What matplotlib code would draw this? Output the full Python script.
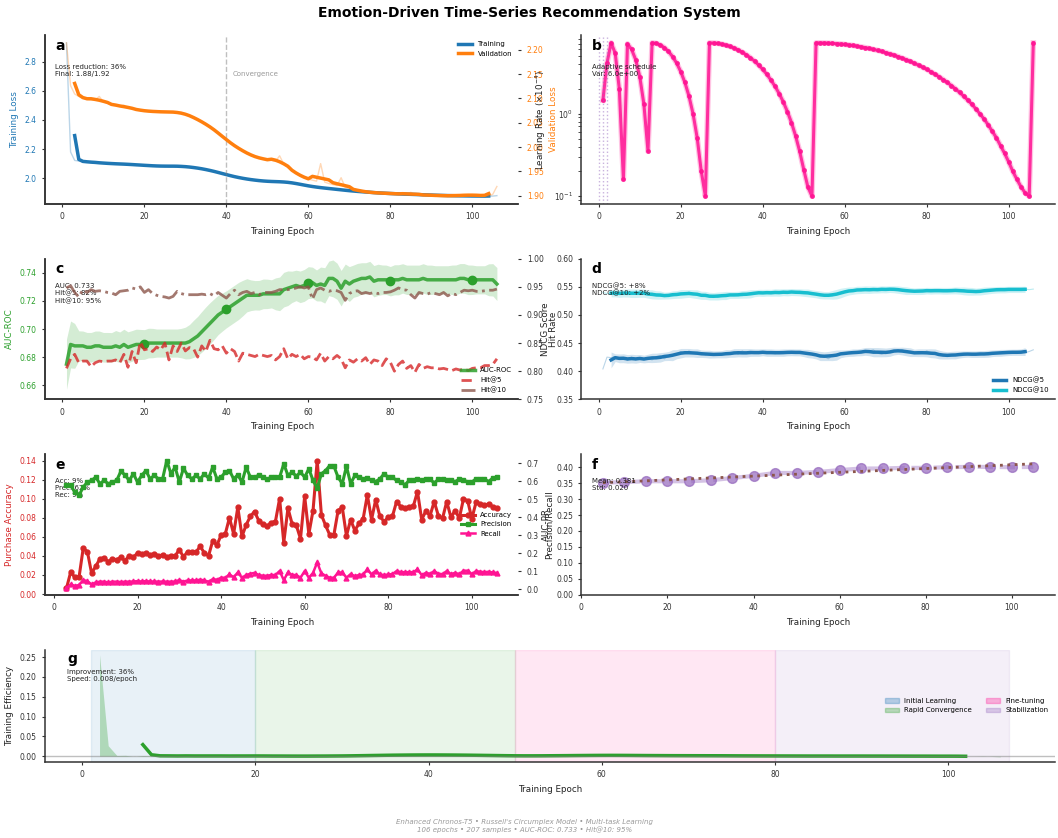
import numpy as np
import pandas as pd
import matplotlib
matplotlib.use('Agg')
from matplotlib import pyplot as plt
from matplotlib.gridspec import GridSpec
from matplotlib.patches import Patch

# Datos (epocas 1..106)
epochs = list(range(1, 107))

train_loss = [2.930, 2.180, 2.122, 2.118, 2.113, 2.114, 2.110, 2.108, 2.106, 2.104,
              2.101, 2.100, 2.099, 2.098, 2.097, 2.095, 2.094, 2.092, 2.090, 2.088,
              2.087, 2.085, 2.084, 2.082, 2.082, 2.083, 2.083, 2.083, 2.082, 2.080,
              2.077, 2.074, 2.070, 2.065, 2.060, 2.054, 2.047, 2.040, 2.032, 2.024,
              2.017, 2.010, 2.004, 1.998, 1.994, 1.990, 1.986, 1.983, 1.980, 1.978,
              1.977, 1.976, 1.976, 1.975, 1.973, 1.969, 1.964, 1.958, 1.952, 1.947,
              1.942, 1.938, 1.935, 1.932, 1.929, 1.926, 1.923, 1.920, 1.917, 1.914,
              1.911, 1.909, 1.907, 1.905, 1.903, 1.901, 1.899, 1.897, 1.896, 1.895,
              1.893, 1.892, 1.891, 1.890, 1.889, 1.888, 1.887, 1.886, 1.885, 1.884,
              1.883, 1.882, 1.881, 1.880, 1.880, 1.879, 1.879, 1.878, 1.878, 1.878,
              1.877, 1.877, 1.877, 1.876, 1.877, 1.880]

val_loss = [2.214, 2.126, 2.109, 2.104, 2.100, 2.098, 2.097, 2.097, 2.104, 2.093,
            2.090, 2.086, 2.085, 2.084, 2.086, 2.081, 2.079, 2.077, 2.075, 2.074,
            2.074, 2.073, 2.073, 2.072, 2.072, 2.072, 2.072, 2.072, 2.071, 2.068,
            2.065, 2.061, 2.057, 2.052, 2.047, 2.042, 2.036, 2.030, 2.022, 2.014,
            2.008, 2.003, 1.997, 1.992, 1.987, 1.983, 1.980, 1.977, 1.975, 1.974,
            1.973, 1.971, 1.982, 1.965, 1.958, 1.952, 1.946, 1.941, 1.937, 1.934,
            1.932, 1.930, 1.966, 1.928, 1.925, 1.923, 1.921, 1.937, 1.917, 1.915,
            1.913, 1.911, 1.909, 1.908, 1.907, 1.906, 1.906, 1.905, 1.905, 1.905,
            1.904, 1.904, 1.903, 1.903, 1.907, 1.902, 1.902, 1.902, 1.901, 1.901,
            1.901, 1.900, 1.900, 1.900, 1.900, 1.900, 1.901, 1.901, 1.901, 1.902,
            1.901, 1.901, 1.900, 1.899, 1.903, 1.919]

learning_rate = [1.45, 4.1, 7.2, 5.4, 2.0, 0.16, 7.0, 6.0, 4.5, 2.8, 1.3, 0.35,
                 7.2, 7.1, 6.79, 6.31, 5.67, 4.91, 4.08, 3.22, 2.39, 1.63, 0.99, 0.51, 0.20, 0.10,
                 7.2, 7.17, 7.09, 6.95, 6.76, 6.52, 6.24, 5.91, 5.55, 5.16, 4.75, 4.32, 3.87,
                 3.43, 2.99, 2.55, 2.14, 1.75, 1.39, 1.06, 0.78, 0.54, 0.35, 0.21, 0.13, 0.10,
                 7.2, 7.19, 7.17, 7.14, 7.10, 7.04, 6.97, 6.89, 6.79, 6.69, 6.57, 6.44, 6.31,
                 6.16, 6.00, 5.84, 5.67, 5.49, 5.30, 5.11, 4.91, 4.71, 4.50, 4.29, 4.08, 3.86,
                 3.65, 3.44, 3.22, 3.01, 2.80, 2.59, 2.39, 2.19, 2.00, 1.81, 1.63, 1.46, 1.30,
                 1.14, 0.99, 0.86, 0.73, 0.61, 0.51, 0.41, 0.33, 0.26, 0.20, 0.16, 0.13, 0.11,
                 0.10, 7.2]
lr_marcas = [0, 1, 2]

auc_roc = [0.675, 0.689, 0.688, 0.688, 0.688, 0.687, 0.687, 0.688, 0.688, 0.687,
           0.687, 0.687, 0.688, 0.687, 0.689, 0.687, 0.688, 0.689, 0.689, 0.689,
           0.690, 0.690, 0.690, 0.690, 0.690, 0.690, 0.690, 0.690, 0.690, 0.690,
           0.691, 0.693, 0.695, 0.698, 0.701, 0.704, 0.707, 0.710, 0.712, 0.714,
           0.716, 0.718, 0.720, 0.722, 0.724, 0.724, 0.724, 0.724, 0.725, 0.725,
           0.725, 0.725, 0.725, 0.728, 0.729, 0.730, 0.731, 0.730, 0.731, 0.733,
           0.733, 0.731, 0.732, 0.731, 0.736, 0.736, 0.734, 0.729, 0.734, 0.732,
           0.734, 0.735, 0.736, 0.736, 0.737, 0.734, 0.735, 0.735, 0.735, 0.734,
           0.735, 0.735, 0.736, 0.735, 0.735, 0.735, 0.735, 0.736, 0.735, 0.735,
           0.735, 0.735, 0.735, 0.735, 0.735, 0.735, 0.736, 0.736, 0.735, 0.735,
           0.735, 0.735, 0.735, 0.735, 0.735, 0.732]
auc_marcas = [20, 40, 60, 80, 100]

hit5 = [0.805, 0.822, 0.830, 0.815, 0.818, 0.818, 0.808, 0.815, 0.818, 0.817,
        0.818, 0.818, 0.820, 0.815, 0.830, 0.807, 0.835, 0.815, 0.852, 0.838,
        0.840, 0.835, 0.843, 0.838, 0.850, 0.820, 0.845, 0.835, 0.850, 0.836,
        0.842, 0.840, 0.825, 0.845, 0.835, 0.855, 0.840, 0.838, 0.845, 0.832,
        0.840, 0.835, 0.818, 0.832, 0.830, 0.828, 0.826, 0.830, 0.828, 0.826,
        0.828, 0.820, 0.826, 0.840, 0.822, 0.830, 0.826, 0.830, 0.822, 0.826,
        0.825, 0.820, 0.832, 0.818, 0.826, 0.822, 0.828, 0.822, 0.806, 0.820,
        0.816, 0.822, 0.818, 0.824, 0.812, 0.820, 0.818, 0.810, 0.822, 0.816,
        0.800, 0.812, 0.818, 0.805, 0.810, 0.798, 0.812, 0.805, 0.808, 0.806,
        0.806, 0.804, 0.805, 0.803, 0.801, 0.804, 0.802, 0.804, 0.801, 0.805,
        0.806, 0.806, 0.810, 0.810, 0.812, 0.822]

hit10 = [0.948, 0.952, 0.940, 0.932, 0.945, 0.940, 0.945, 0.942, 0.943, 0.942,
         0.940, 0.939, 0.936, 0.942, 0.943, 0.944, 0.948, 0.946, 0.950, 0.940,
         0.945, 0.938, 0.935, 0.933, 0.932, 0.930, 0.933, 0.942, 0.938, 0.936,
         0.936, 0.936, 0.936, 0.937, 0.936, 0.938, 0.934, 0.940, 0.935, 0.930,
         0.938, 0.944, 0.936, 0.940, 0.942, 0.938, 0.940, 0.936, 0.940, 0.940,
         0.940, 0.942, 0.945, 0.945, 0.945, 0.946, 0.948, 0.950, 0.948, 0.950,
         0.928, 0.945, 0.948, 0.944, 0.942, 0.944, 0.943, 0.940, 0.926, 0.938,
         0.942, 0.943, 0.938, 0.940, 0.938, 0.940, 0.938, 0.940, 0.940, 0.941,
         0.944, 0.948, 0.945, 0.944, 0.936, 0.930, 0.940, 0.938, 0.937, 0.940,
         0.938, 0.936, 0.940, 0.934, 0.938, 0.936, 0.940, 0.944, 0.943, 0.944,
         0.942, 0.942, 0.943, 0.944, 0.944, 0.946]

ndcg5 = [0.404, 0.425, 0.424, 0.426, 0.421, 0.424, 0.419, 0.425, 0.420, 0.424,
         0.421, 0.423, 0.420, 0.426, 0.428, 0.422, 0.427, 0.428, 0.430, 0.435,
         0.431, 0.436, 0.432, 0.430, 0.433, 0.429, 0.431, 0.430, 0.428, 0.431,
         0.430, 0.432, 0.434, 0.430, 0.436, 0.432, 0.431, 0.434, 0.433, 0.435,
         0.432, 0.434, 0.431, 0.433, 0.434, 0.432, 0.435, 0.433, 0.434, 0.433,
         0.432, 0.430, 0.428, 0.429, 0.426, 0.422, 0.428, 0.430, 0.432, 0.431,
         0.433, 0.432, 0.434, 0.435, 0.433, 0.436, 0.438, 0.432, 0.430, 0.433,
         0.435, 0.437, 0.436, 0.438, 0.435, 0.433, 0.432, 0.431, 0.432, 0.436,
         0.433, 0.431, 0.428, 0.430, 0.426, 0.428, 0.429, 0.430, 0.431, 0.430,
         0.431, 0.430, 0.429, 0.431, 0.432, 0.431, 0.432, 0.433, 0.433, 0.434,
         0.433, 0.434, 0.434, 0.433, 0.435, 0.438]

ndcg10 = [0.540, 0.538, 0.537, 0.541, 0.538, 0.540, 0.536, 0.539, 0.542, 0.536,
          0.540, 0.537, 0.539, 0.534, 0.533, 0.535, 0.536, 0.534, 0.536, 0.539,
          0.537, 0.541, 0.536, 0.538, 0.535, 0.534, 0.532, 0.535, 0.531, 0.534,
          0.536, 0.535, 0.537, 0.536, 0.534, 0.537, 0.539, 0.538, 0.540, 0.539,
          0.541, 0.538, 0.540, 0.539, 0.542, 0.540, 0.541, 0.539, 0.542, 0.540,
          0.539, 0.538, 0.537, 0.536, 0.535, 0.533, 0.534, 0.537, 0.540, 0.541,
          0.543, 0.544, 0.545, 0.543, 0.547, 0.544, 0.546, 0.544, 0.545, 0.546,
          0.547, 0.545, 0.546, 0.544, 0.543, 0.542, 0.541, 0.543, 0.542, 0.544,
          0.543, 0.544, 0.542, 0.543, 0.544, 0.542, 0.544, 0.543, 0.545, 0.542,
          0.540, 0.541, 0.542, 0.543, 0.544, 0.545, 0.544, 0.545, 0.546, 0.545,
          0.545, 0.546, 0.545, 0.546, 0.545, 0.546]

# panel e: epocas 3..106
epochs_e = list(range(3, 107))
accuracy = [0.006, 0.023, 0.0175, 0.0175, 0.048, 0.0445, 0.022, 0.029, 0.037, 0.038,
            0.034, 0.037, 0.036, 0.0385, 0.035, 0.040, 0.0385, 0.043, 0.042, 0.043,
            0.041, 0.042, 0.040, 0.041, 0.039, 0.040, 0.040, 0.0465, 0.039, 0.0445,
            0.044, 0.044, 0.050, 0.043, 0.040, 0.056, 0.051, 0.062, 0.063, 0.080,
            0.063, 0.091, 0.0605, 0.0725, 0.0815, 0.0865, 0.077, 0.073, 0.071, 0.075,
            0.076, 0.100, 0.054, 0.090, 0.0735, 0.072, 0.058, 0.1025, 0.063, 0.0875,
            0.140, 0.083, 0.072, 0.062, 0.0623, 0.0875, 0.091, 0.061, 0.078, 0.0665,
            0.074, 0.079, 0.104, 0.078, 0.099, 0.0815, 0.076, 0.0805, 0.0815, 0.097,
            0.0915, 0.090, 0.0915, 0.092, 0.1075, 0.078, 0.087, 0.082, 0.097, 0.082,
            0.0795, 0.097, 0.0805, 0.0875, 0.0795, 0.0997, 0.098, 0.079, 0.096, 0.0945,
            0.093, 0.0945, 0.0915, 0.090]
precision = [0.576, 0.576, 0.539, 0.521, 0.567, 0.595, 0.604, 0.622, 0.586, 0.604,
             0.586, 0.595, 0.604, 0.654, 0.635, 0.604, 0.641, 0.595, 0.632, 0.659,
             0.613, 0.632, 0.613, 0.613, 0.715, 0.641, 0.678, 0.595, 0.672, 0.632,
             0.613, 0.632, 0.613, 0.641, 0.617, 0.678, 0.613, 0.622, 0.650, 0.659,
             0.613, 0.635, 0.595, 0.678, 0.622, 0.622, 0.632, 0.622, 0.610, 0.622,
             0.622, 0.622, 0.696, 0.632, 0.650, 0.628, 0.650, 0.622, 0.669, 0.604,
             0.561, 0.641, 0.659, 0.687, 0.683, 0.622, 0.586, 0.683, 0.586, 0.632,
             0.622, 0.613, 0.617, 0.604, 0.598, 0.613, 0.641, 0.622, 0.622, 0.604,
             0.595, 0.580, 0.604, 0.604, 0.610, 0.604, 0.610, 0.610, 0.591, 0.610,
             0.610, 0.604, 0.604, 0.598, 0.610, 0.604, 0.598, 0.595, 0.613, 0.610,
             0.613, 0.598, 0.617, 0.622]
recall = [0.004, 0.026, 0.018, 0.022, 0.050, 0.044, 0.026, 0.037, 0.041, 0.041,
          0.037, 0.041, 0.041, 0.039, 0.041, 0.041, 0.042, 0.044, 0.042, 0.044,
          0.042, 0.042, 0.041, 0.042, 0.041, 0.041, 0.042, 0.050, 0.041, 0.048,
          0.048, 0.048, 0.052, 0.048, 0.041, 0.055, 0.052, 0.063, 0.063, 0.081,
          0.066, 0.092, 0.063, 0.078, 0.085, 0.090, 0.078, 0.074, 0.074, 0.078,
          0.078, 0.100, 0.050, 0.092, 0.078, 0.078, 0.063, 0.100, 0.063, 0.090,
          0.148, 0.087, 0.074, 0.063, 0.063, 0.092, 0.092, 0.063, 0.083, 0.072,
          0.078, 0.081, 0.109, 0.081, 0.102, 0.081, 0.078, 0.081, 0.083, 0.100,
          0.094, 0.094, 0.094, 0.094, 0.109, 0.078, 0.090, 0.085, 0.100, 0.085,
          0.083, 0.100, 0.083, 0.090, 0.083, 0.102, 0.102, 0.083, 0.100, 0.096,
          0.094, 0.096, 0.092, 0.090]

# panel f: AUC-PR cada 5 epocas
epochs_pr = [5, 10, 15, 20, 25, 30, 35, 40, 45, 50, 55, 60, 65, 70, 75, 80, 85, 90, 95, 100, 105]
auc_pr = [0.352, 0.353, 0.356, 0.356, 0.356, 0.359, 0.366, 0.373, 0.382, 0.382, 0.385,
          0.391, 0.396, 0.396, 0.398, 0.398, 0.400, 0.401, 0.401, 0.400, 0.401]

# panel g: fases del entrenamiento
fases = ['Initial Learning', 'Rapid Convergence', 'Fine-tuning', 'Stabilization']
fases_inicio = [1, 20, 50, 80]
fases_fin = [20, 50, 80, 107]
fases_colores = ['#1f77b4', '#2ca02c', '#ff1493', '#9467bd']

# Estilo general
plt.rcParams['font.family'] = ['DejaVu Sans']
plt.rcParams['axes.spines.top'] = False
plt.rcParams['axes.spines.right'] = False
plt.rcParams['axes.linewidth'] = 1.1
plt.rcParams['axes.edgecolor'] = '#333333'
plt.rcParams['xtick.labelsize'] = 5.5
plt.rcParams['ytick.labelsize'] = 5.5
plt.rcParams['axes.labelsize'] = 6.3
plt.rcParams['xtick.major.size'] = 2.5
plt.rcParams['ytick.major.size'] = 2.5
plt.rcParams['xtick.color'] = '#333333'
plt.rcParams['ytick.color'] = '#333333'
plt.rcParams['axes.labelcolor'] = '#222222'

fig = plt.figure(figsize=(10.58, 8.38), dpi=100)
gs = GridSpec(4, 2, figure=fig, height_ratios=[1.2, 1, 1, 0.8],
              left=0.0425, right=0.997, top=0.958, bottom=0.0907,
              hspace=0.39, wspace=0.133)


def letra(ax, txt):
    ax.text(0.022, 0.975, txt, transform=ax.transAxes, fontsize=10,
            fontweight='bold', va='top', ha='left')


def nota(ax, txt):
    ax.text(0.022, 0.83, txt, transform=ax.transAxes, fontsize=5,
            va='top', ha='left', color='#222222')


# a) perdidas
ax_a = fig.add_subplot(gs[0, 0])
ax_a2 = ax_a.twinx()
train_s = pd.Series(train_loss).rolling(5, center=True).mean()
val_s = pd.Series(val_loss).rolling(5, center=True).mean()
ax_a.plot(epochs, train_loss, color='#1f77b4', alpha=0.3, lw=1)
l1, = ax_a.plot(epochs, train_s, color='#1f77b4', lw=2.5, label='Training')
ax_a2.plot(epochs, val_loss, color='#ff7f0e', alpha=0.3, lw=1)
l2, = ax_a2.plot(epochs, val_s, color='#ff7f0e', lw=2.5, label='Validation')
ax_a.axvline(40, color='gray', ls='--', lw=1, alpha=0.5)
ax_a.text(41.5, 0.76, 'Convergence', transform=ax_a.get_xaxis_transform(),
          fontsize=5, color='gray', alpha=0.8)
ax_a.set_ylabel('Training Loss', color='#1f77b4')
ax_a.tick_params(axis='y', labelcolor='#1f77b4')
ax_a2.set_ylabel('Validation Loss', color='#ff7f0e')
ax_a2.tick_params(axis='y', labelcolor='#ff7f0e')
ax_a.set_xlabel('Training Epoch')
ax_a2.legend([l1, l2], ['Training', 'Validation'], loc='upper right',
             frameon=False, fontsize=5)
letra(ax_a, 'a')
nota(ax_a, 'Loss reduction: 36%\nFinal: 1.88/1.92')

# b) tasa de aprendizaje
ax_b = fig.add_subplot(gs[0, 1])
ax_b.plot(epochs, learning_rate, color='#ff1493', lw=4, alpha=0.25)
ax_b.plot(epochs, learning_rate, color='#ff1493', lw=2.2, marker='o', ms=2.5, alpha=0.85)
ax_b.set_yscale('log')
for m in lr_marcas:
    ax_b.axvline(m, color='#9467bd', ls=':', lw=1, alpha=0.5)
ax_b.set_xlim(ax_a.get_xlim())
ax_b.set_ylabel(r'Learning Rate ($\times10^{-4}$)')
ax_b.set_xlabel('Training Epoch')
letra(ax_b, 'b')
nota(ax_b, 'Adaptive schedule\nVar: 6.0e+00')

# c) AUC-ROC y Hit Rate
ax_c = fig.add_subplot(gs[1, 0])
ax_c2 = ax_c.twinx()
auc_s = pd.Series(auc_roc)
banda = auc_s.rolling(5, center=True, min_periods=1).std() + 0.01
ax_c.fill_between(epochs, auc_s - banda, auc_s + banda, color='#2ca02c', alpha=0.2, lw=0)
l3, = ax_c.plot(epochs, auc_roc, color='#2ca02c', lw=2.5, alpha=0.85, label='AUC-ROC')
idx = [epochs.index(e) for e in auc_marcas]
ax_c.plot([epochs[i] for i in idx], [auc_roc[i] for i in idx], 'o',
          color='#2ca02c', ms=6)
l4, = ax_c2.plot(epochs, hit5, color='#d62728', ls='--', lw=2, alpha=0.8, label='Hit@5')
l5, = ax_c2.plot(epochs, hit10, color='#8c564b', ls='-.', lw=2, alpha=0.8, label='Hit@10')
ax_c.set_ylim(0.65, 0.75)
ax_c2.set_ylim(0.75, 1.0)
ax_c.set_ylabel('AUC-ROC', color='#2ca02c')
ax_c.tick_params(axis='y', labelcolor='#2ca02c')
ax_c2.set_ylabel('Hit Rate')
ax_c.set_xlabel('Training Epoch')
ax_c2.legend([l3, l4, l5], ['AUC-ROC', 'Hit@5', 'Hit@10'], loc='lower right',
             frameon=False, fontsize=5)
letra(ax_c, 'c')
nota(ax_c, 'AUC: 0.733\nHit@5: 82%\nHit@10: 95%')

# d) NDCG
ax_d = fig.add_subplot(gs[1, 1])
for serie, col, nombre in [(ndcg5, '#1f77b4', 'NDCG@5'), (ndcg10, '#17becf', 'NDCG@10')]:
    s = pd.Series(serie)
    media = s.rolling(5, center=True).mean()
    desv = s.rolling(5, center=True).std() + 0.005
    ax_d.plot(epochs, serie, color=col, lw=0.8, alpha=0.3)
    ax_d.fill_between(epochs, media - desv, media + desv, color=col, alpha=0.2, lw=0)
    ax_d.plot(epochs, media, color=col, lw=2.5, label=nombre)
ax_d.set_ylim(0.35, 0.60)
ax_d.set_ylabel('NDCG Score')
ax_d.set_xlabel('Training Epoch')
ax_d.legend(loc='lower right', frameon=False, fontsize=5)
letra(ax_d, 'd')
nota(ax_d, 'NDCG@5: +8%\nNDCG@10: +2%')

# e) accuracy, precision, recall
ax_e = fig.add_subplot(gs[2, 0])
ax_e2 = ax_e.twinx()
l6, = ax_e.plot(epochs_e, accuracy, color='#d62728', lw=2.2, marker='o', ms=3.5, label='Accuracy')
l7, = ax_e2.plot(epochs_e, precision, color='#2ca02c', lw=2.2, marker='s', ms=3.5, label='Precision')
l8, = ax_e2.plot(epochs_e, recall, color='#ff1493', lw=1.8, marker='^', ms=3.5, label='Recall')
ax_e.set_ylabel('Purchase Accuracy', color='#d62728')
ax_e.tick_params(axis='y', labelcolor='#d62728')
ax_e2.set_ylabel('Precision/Recall')
ax_e.set_xlabel('Training Epoch')
ax_e2.legend([l6, l7, l8], ['Accuracy', 'Precision', 'Recall'], loc='center right',
             frameon=False, fontsize=5)
letra(ax_e, 'e')
nota(ax_e, 'Acc: 9%\nPrec: 62%\nRec: 9%')

# f) AUC-PR
ax_f = fig.add_subplot(gs[2, 1])
ax_f.plot(epochs_pr, auc_pr, color='#9467bd', ls='--', lw=3, alpha=0.4)
ax_f.plot(epochs_pr, auc_pr, 'o', color='#9467bd', ms=7, alpha=0.7)
coef = np.polyfit(epochs_pr, auc_pr, 1)
ax_f.plot(epochs_pr, np.polyval(coef, epochs_pr), ':', color='#8c564b', lw=2)
ax_f.set_ylim(0, max(auc_pr) * 1.1)
ax_f.set_xlim(0, 110)
ax_f.set_ylabel('AUC-PR')
ax_f.set_xlabel('Training Epoch')
letra(ax_f, 'f')
nota(ax_f, 'Mean: 0.381\nStd: 0.020')

# g) eficiencia del entrenamiento
ax_g = fig.add_subplot(gs[3, :])
for ini, fin, col in zip(fases_inicio, fases_fin, fases_colores):
    ax_g.axvspan(ini, fin, color=col, alpha=0.1)
perdida = np.array(train_loss)
eficiencia = -np.diff(perdida) / perdida[:-1]
ax_g.fill_between(epochs[1:], 0, eficiencia, color='#2ca02c', alpha=0.3, lw=0)
efic_s = pd.Series(eficiencia).rolling(10, center=True).mean()
ax_g.plot(epochs[1:], efic_s, color='#2ca02c', lw=2.5)
ax_g.axhline(0, color='gray', lw=1, alpha=0.5)
ax_g.set_ylabel('Training Efficiency')
ax_g.set_xlabel('Training Epoch')
parches = [Patch(color=c, alpha=0.3, label=n) for n, c in zip(fases, fases_colores)]
ax_g.legend(handles=parches, loc='center right', ncol=2, frameon=False, fontsize=5)
letra(ax_g, 'g')
nota(ax_g, 'Improvement: 36%\nSpeed: 0.008/epoch')

fig.suptitle('Emotion-Driven Time-Series Recommendation System',
             fontsize=10, fontweight='bold', y=0.993, va='top')
fig.text(0.496, 0.006,
         "Enhanced Chronos-T5 \u2022 Russell's Circumplex Model \u2022 Multi-task Learning\n"
         "106 epochs \u2022 207 samples \u2022 AUC-ROC: 0.733 \u2022 Hit@10: 95%",
         ha='center', va='bottom', fontsize=5, style='italic', color='gray', alpha=0.8)

fig.savefig('out.png', dpi=100)
